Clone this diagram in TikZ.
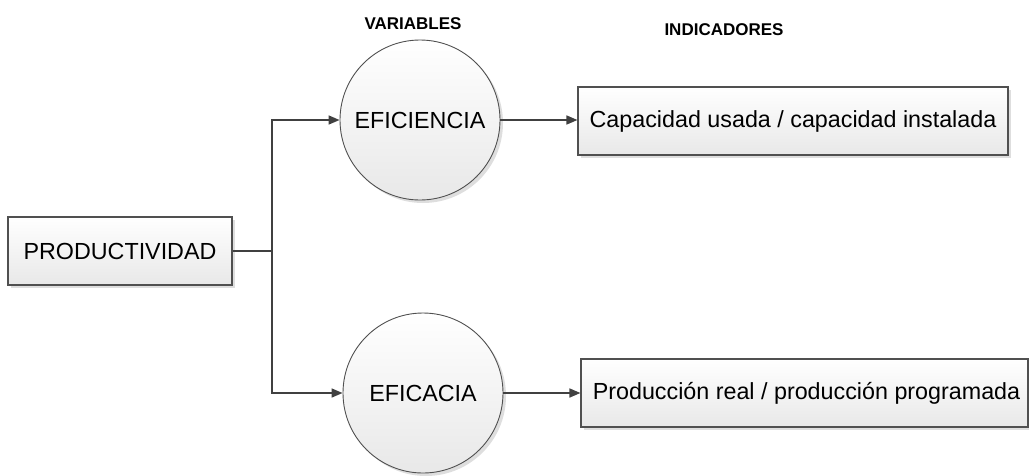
\documentclass[tikz,border=0pt]{standalone}
\usepackage{fontspec}
\setmainfont{Liberation Sans}
\usetikzlibrary{arrows.meta,positioning,shadows}

\definecolor{linegray}{HTML}{404040}
\definecolor{edgegray}{HTML}{505050}

\begin{document}
\begin{tikzpicture}[
x=1pt, y=-1pt,
node distance=77pt,
shade/.style={top color=white, bottom color=black!9, draw=edgegray, line width=1.1pt,
  drop shadow={shadow xshift=3pt, shadow yshift=-3pt, fill=black, opacity=0.13}},
box/.style={shade, rectangle, inner sep=0pt, minimum height=68pt, font=\fontsize{23.3}{27}\selectfont},
var/.style={shade, circle, inner sep=0pt, minimum size=160pt, line width=0.9pt, font=\fontsize{23.3}{27}\selectfont},
head/.style={font=\fontsize{17}{20}\selectfont\bfseries},
conn/.style={draw=linegray, line width=1.6pt},
arrow/.style={conn, -{Triangle[length=11pt, width=9pt]}}
]
\useasboundingbox (0,0) rectangle (1029,475);

\node[head] (hvar) at (413,24) {VARIABLES};
\node[head] (hind) at (724,30) {INDICADORES};

\node[box, minimum width=224pt] (prod) at (120,251) {PRODUCTIVIDAD};
\node[var] (efi) at (420,120) {EFICIENCIA};
\node[var] (efa) at (423,393) {EFICACIA};
\node[box, right=of efi, minimum width=430pt, yshift=-1pt] (cap) {Capacidad usada / capacidad instalada};
\node[box, right=of efa, minimum width=447pt, xshift=0pt] (prog) {\hspace*{4pt}Producción real / producción programada};

\coordinate (junc) at (272,251);

\draw[conn] (prod) -- (junc);
\draw[arrow] (junc) |- (efi);
\draw[arrow] (junc) |- (efa);
\draw[arrow] (efi) -- (efi -| cap.west);
\draw[arrow] (efa) -- (efa -| prog.west);
\end{tikzpicture}
\end{document}
